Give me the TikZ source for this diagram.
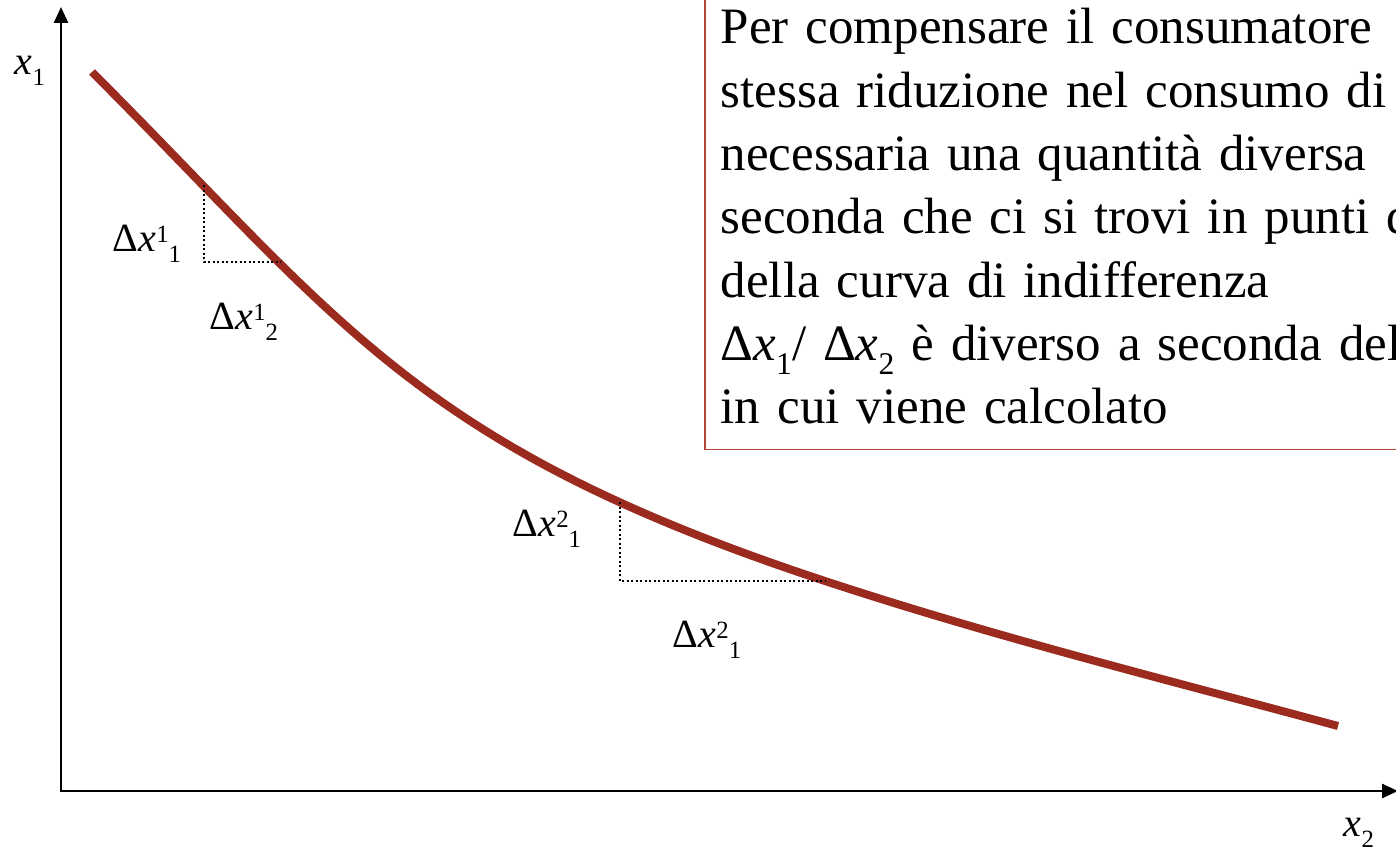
\documentclass[tikz,border=0pt]{standalone}
\usepackage{fontspec}
\setmainfont{Liberation Serif}
\usepackage{graphicx}
\usetikzlibrary{arrows.meta}

\definecolor{curvered}{RGB}{155,43,30}
\definecolor{boxred}{RGB}{180,70,58}

\newcommand{\supidx}[1]{\raisebox{0.22em}{\scalebox{0.62}{#1}}}
\newcommand{\subidx}[1]{\raisebox{-0.28em}{\scalebox{0.62}{#1}}}
\newcommand{\dxlab}[2]{Δ\textit{x}\supidx{#1}\subidx{#2}}

\begin{document}
\begin{tikzpicture}[x=1pt,y=-1pt,
  axis/.style={line width=2.5pt,{Triangle[length=16pt,width=14pt]}-{Triangle[length=16pt,width=14pt]}},
  indiff/.style={line width=8pt,curvered},
  guide/.style={line width=2pt,dash pattern=on 2pt off 2.5pt},
  lab/.style={font=\fontsize{40}{40}\selectfont,inner sep=0pt},
  axlab/.style={font=\fontsize{40}{40}\selectfont,inner sep=0pt},
  note/.style={draw=boxred,line width=1.5pt,align=left,text width=760pt,
    inner xsep=16pt,inner ysep=25pt,font=\fontsize{51}{63.3}\selectfont}]
\useasboundingbox (0,0) rectangle (1396,853);
\clip (0,0) rectangle (1396,853);

% axes
\coordinate (O) at (61,791);
\coordinate (ytop) at (61,7);
\coordinate (xend) at (1398,791);
\draw[axis] (ytop) -- (O) -- (xend);
\node[axlab] (x1) at (30,71) {\textit{x}\subidx{1}};
\node[axlab] (x2) at (1359,833) {\textit{x}\subidx{2}};

% indifference curve
\draw[indiff] (92,72) .. controls (342,322) and (415,446) .. (825,581)
  .. controls (995,637) and (1168,680) .. (1338,726);

% steps along the curve
\coordinate (a1) at (204,185);
\coordinate (a2) at (281,262);
\coordinate (b1) at (620,502);
\coordinate (b2) at (825,581);
\draw[guide] (a1) -- (a1 |- a2) -- (a2);
\draw[guide] (b1) -- (b1 |- b2) -- (b2);
\node[lab] (da1) at (147,244) {\dxlab{1}{1}};
\node[lab] (da2) at (244,322) {\dxlab{1}{2}};
\node[lab] (db1) at (547,529) {\dxlab{2}{1}};
\node[lab] (db2) at (707,640) {\dxlab{2}{1}};

% comment box
\node[note,anchor=south west] (note) at (704,450) {Per compensare il consumatore\\
  stessa riduzione nel consumo di\\
  necessaria una quantità diversa\\
  seconda che ci si trovi in punti d\\
  della curva di indifferenza\\
  Δ\textit{x}\subidx{1}/ Δ\textit{x}\subidx{2} è diverso a seconda del\\
  in cui viene calcolato};

\end{tikzpicture}
\end{document}
